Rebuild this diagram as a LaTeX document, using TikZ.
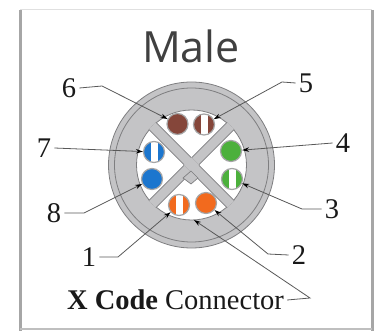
\documentclass[tikz,border=0pt]{standalone}
\usepackage{fontspec}
\setmainfont{Liberation Serif}
\newfontfamily\titlefont{Open Sans}
\usetikzlibrary{arrows.meta}
\definecolor{jacket}{HTML}{C4C4C6}
\definecolor{edgegray}{HTML}{7E7E80}
\definecolor{wirebrown}{HTML}{85463A}
\definecolor{wireblue}{HTML}{1C76CE}
\definecolor{wiregreen}{HTML}{4CB03C}
\definecolor{wireorange}{HTML}{F26A1E}
\tikzset{
  wire/.style={circle, draw=edgegray!70, line width=1.2pt, minimum size=21pt, inner sep=0pt, fill=#1},
  striped/.style={wire=#1, path picture={\fill[white] ([xshift=-3.2pt]path picture bounding box.south) rectangle ([xshift=3.6pt]path picture bounding box.north);}},
  num/.style={font=\fontsize{28.5}{28.5}\selectfont, text=black!90, inner sep=3pt},
  leader/.style={draw=black!65, line width=0.8pt, -{Stealth[length=7pt,width=4.5pt,black]}},
  ring/.style={circle, draw=edgegray, line width=0.8pt, inner sep=0pt},
  arm/.style={fill=jacket, draw=edgegray, line width=0.7pt},
  shadow/.style={draw=black!#1}
}
\begin{document}
\begin{tikzpicture}[x=1pt,y=-1pt]
\useasboundingbox (0,0) rectangle (380,331);
% card edges
\draw[shadow=12, line width=1pt] (20,10) -- (372,10);
\draw[shadow=35, line width=3pt] (20,10) -- (20,331);
\draw[shadow=35, line width=3pt] (372,10) -- (372,331);
\draw[shadow=25, line width=1.5pt] (20,329) -- (372,329);
% cable
\node[ring, fill=jacket, minimum size=166pt] (body) at (191.5,165) {};
\node[ring, minimum size=154pt] (inner) at (body) {};
\node[ring, fill=white, minimum size=110pt] (core) at (body) {};
\begin{scope}
\clip (body) circle (55.5pt);
\draw[arm, rotate around={45:(body)}] (131.5,160) rectangle (251.5,170);
\draw[arm, rotate around={-45:(body)}] (131.5,160) rectangle (251.5,170);
\fill[jacket, rotate around={45:(body)}] (186.15,159.65) rectangle (196.85,170.35);
\end{scope}
\draw[arm] (183,178) -- (191,171) -- (198,178) -- (191,184) -- cycle;
% wires
\node[striped=wireorange] (1) at (179,205) {};
\node[wire=wireorange] (2) at (206,203) {};
\node[striped=wiregreen] (3) at (232,179) {};
\node[wire=wiregreen] (4) at (231,151) {};
\node[striped=wirebrown] (5) at (204,124.5) {};
\node[wire=wirebrown] (6) at (177.5,124) {};
\node[striped=wireblue] (7) at (154,152) {};
\node[wire=wireblue] (8) at (152,179) {};
% labels
\node[font=\titlefont\fontsize{43}{43}\selectfont, text=black!75] (title) at (191,46) {Male};
\node[num] (n1) at (89,257) {1};
\node[num] (n2) at (299,255) {2};
\node[num] (n3) at (332,209) {3};
\node[num] (n4) at (343,143) {4};
\node[num] (n5) at (306,83) {5};
\node[num] (n6) at (69,88) {6};
\node[num] (n7) at (44,148) {7};
\node[num] (n8) at (54,213) {8};
\node[num] (name) at (175.5,300) {\textbf{X Code} Connector};
% bends
\coordinate (k1) at (118,257);
\coordinate (k2) at (268,254);
\coordinate (k3) at (302,209);
\coordinate (k5) at (282,82);
\coordinate (k6) at (102,86);
\coordinate (k8) at (84,213);
\coordinate (k9) at (310,298);
\coordinate (t9) at (194,220);
% leaders
\draw[leader] (n1.east) -- (k1) -- (1);
\draw[leader] (n2.west) -- (k2) -- (2);
\draw[leader] (n3.west) -- (k3) -- (3);
\draw[leader] (n4.west) -- (4);
\draw[leader] (n5.west) -- (k5) -- (5);
\draw[leader] (n6.east) -- (k6) -- (6);
\draw[leader] (n7.east) -- (7);
\draw[leader] (n8.east) -- (k8) -- (8);
\draw[leader] (name.east) -- (k9) -- (t9);
\end{tikzpicture}
\end{document}
